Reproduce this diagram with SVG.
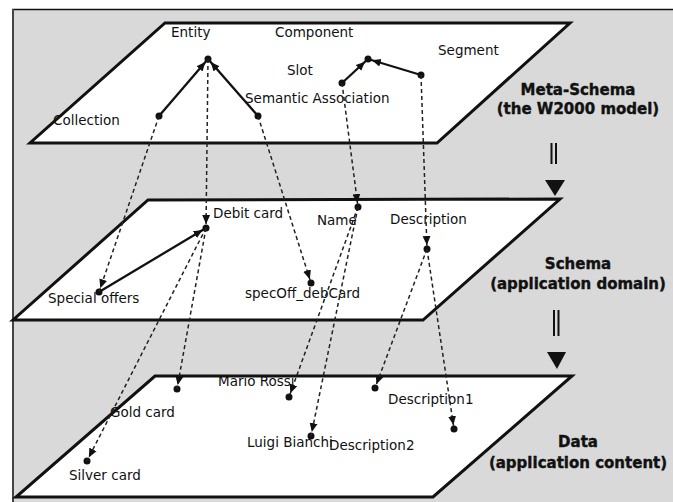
<svg xmlns="http://www.w3.org/2000/svg" width="673" height="502" viewBox="0 0 673 502">
<style>
.plane{fill:#fff;stroke:none}
.edge{fill:none;stroke:#111;stroke-width:3;stroke-linejoin:miter}
.lbl{font-family:"DejaVu Sans",sans-serif;font-size:13.5px;fill:#111}
.big{font-family:"DejaVu Sans",sans-serif;font-size:15px;font-weight:bold;fill:#111;text-anchor:middle;stroke:#111;stroke-width:0.4}
.dot{fill:#111}
.solid{stroke:#111;stroke-width:2.3;fill:none}
.dash{stroke:#222;stroke-width:1.5;stroke-dasharray:4 3;fill:none}
</style>
<defs>
<marker id="ah" viewBox="0 0 16 9" markerWidth="16" markerHeight="9" refX="13" refY="4.5" orient="auto" markerUnits="userSpaceOnUse">
<path d="M0,0.5 L9,4.5 L0,8.5 z" fill="#111"/>
</marker>
</defs>
<rect x="0" y="0" width="673" height="502" fill="#fff"/>
<rect x="13" y="10" width="660" height="492" fill="#d9d9d9"/>
<line x1="12" y1="9.5" x2="673" y2="9.5" stroke="#111" stroke-width="1.6"/>
<line x1="13" y1="9" x2="13" y2="502" stroke="#444" stroke-width="2"/>

<g id="planes">
<polygon id="plane-meta" class="plane" points="165,23 570,23 437,143 30,143"/>
<polygon id="plane-schema" class="plane" points="148,200 560,199 423,320 13,320"/>
<polygon id="plane-data" class="plane" points="155,376 572,376 433,497 16,497"/>
</g>

<g id="nodes">
<g id="n-entity"><text class="lbl" x="171" y="37">Entity</text><circle class="dot" cx="208" cy="59" r="3.5"/></g>
<g id="n-component"><text class="lbl" x="275" y="37">Component</text><circle class="dot" cx="368" cy="59" r="3.5"/></g>
<g id="n-slot"><text class="lbl" x="287" y="75">Slot</text><circle class="dot" cx="342" cy="83" r="3.5"/></g>
<g id="n-semantic"><text class="lbl" x="245" y="103">Semantic Association</text><circle class="dot" cx="258" cy="116" r="3.5"/></g>
<g id="n-collection"><text class="lbl" x="53" y="125">Collection</text><circle class="dot" cx="159" cy="116" r="3.5"/></g>
<g id="n-segment"><text class="lbl" x="438" y="55">Segment</text><circle class="dot" cx="421" cy="75" r="3.5"/></g>

<g id="n-debitcard"><text class="lbl" x="213" y="218">Debit card</text><circle class="dot" cx="206" cy="228" r="3.5"/></g>
<g id="n-name"><text class="lbl" x="317" y="225">Name</text><circle class="dot" cx="358" cy="207" r="3.5"/></g>
<g id="n-description"><text class="lbl" x="390" y="224">Description</text><circle class="dot" cx="427" cy="249" r="3.5"/></g>
<g id="n-specialoffers"><text class="lbl" x="48" y="303">Special offers</text><circle class="dot" cx="99" cy="292" r="3.5"/></g>
<g id="n-specoff"><text class="lbl" x="245" y="298">specOff_debCard</text><circle class="dot" cx="311" cy="283" r="3.5"/></g>

<g id="n-mariorossi"><text class="lbl" x="218" y="386">Mario Rossi</text><circle class="dot" cx="289" cy="397" r="3.5"/></g>
<g id="n-goldcard"><text class="lbl" x="110" y="417">Gold card</text><circle class="dot" cx="177" cy="389" r="3.5"/></g>
<g id="n-luigibianchi"><text class="lbl" x="247" y="447">Luigi Bianchi</text><circle class="dot" cx="311" cy="436" r="3.5"/></g>
<g id="n-description1"><text class="lbl" x="388" y="404">Description1</text><circle class="dot" cx="375" cy="388" r="3.5"/></g>
<g id="n-description2"><text class="lbl" x="329" y="450">Description2</text><circle class="dot" cx="454" cy="429" r="3.5"/></g>
<g id="n-silvercard"><text class="lbl" x="69" y="480">Silver card</text><circle class="dot" cx="87" cy="461" r="3.5"/></g>
</g>

<g id="plane-edges">
<polygon class="edge" points="165,23 570,23 437,143 30,143"/>
<polygon class="edge" points="148,200 560,199 423,320 13,320"/>
<polygon class="edge" points="155,376 572,376 433,497 16,497"/>
</g>

<g id="layer-labels">
<g id="l-meta"><text class="big" x="578" y="95">Meta-Schema</text><text class="big" x="578" y="114">(the W2000 model)</text></g>
<g id="l-schema"><text class="big" x="578" y="269">Schema</text><text class="big" x="578" y="289">(application domain)</text></g>
<g id="l-data"><text class="big" x="578" y="447">Data</text><text class="big" x="578" y="468">(application content)</text></g>
</g>

<g id="connectors">
<path class="solid" d="M159,116 L208,59" marker-end="url(#ah)"/>
<path class="solid" d="M258,116 L208,59" marker-end="url(#ah)"/>
<path class="solid" d="M342,83 L368,59" marker-end="url(#ah)"/>
<path class="solid" d="M421,75 L368,59" marker-end="url(#ah)"/>
<path class="solid" d="M99,292 L206,228" marker-end="url(#ah)"/>

<path class="dash" d="M208,59 L206,228" marker-end="url(#ah)"/>
<path class="dash" d="M159,116 L99,292" marker-end="url(#ah)"/>
<path class="dash" d="M258,116 L311,283" marker-end="url(#ah)"/>
<path class="dash" d="M342,83 L358,207" marker-end="url(#ah)"/>
<path class="dash" d="M421,75 L427,249" marker-end="url(#ah)"/>

<path class="dash" d="M206,228 L177,389" marker-end="url(#ah)"/>
<path class="dash" d="M206,228 L87,461" marker-end="url(#ah)"/>
<path class="dash" d="M358,207 L289,397" marker-end="url(#ah)"/>
<path class="dash" d="M358,207 L311,436" marker-end="url(#ah)"/>
<path class="dash" d="M427,249 L375,388" marker-end="url(#ah)"/>
<path class="dash" d="M427,249 L454,429" marker-end="url(#ah)"/>

<g id="layer-arrow-1">
<line x1="551.5" y1="143" x2="551.5" y2="164" stroke="#111" stroke-width="2"/>
<line x1="556" y1="143" x2="556" y2="164" stroke="#111" stroke-width="2"/>
<polygon points="545,180 565,180 555,196" fill="#111"/>
</g>
<g id="layer-arrow-2">
<line x1="554" y1="310" x2="554" y2="336" stroke="#111" stroke-width="2"/>
<line x1="558.5" y1="310" x2="558.5" y2="336" stroke="#111" stroke-width="2"/>
<polygon points="547,352 566,352 557,369" fill="#111"/>
</g>
</g>
</svg>
